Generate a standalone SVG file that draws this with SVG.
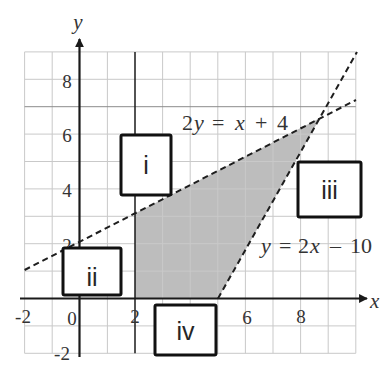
<svg xmlns="http://www.w3.org/2000/svg" width="382" height="365" viewBox="0 0 382 365">
<defs>
<style>
.grid line{stroke:#c9c9c9;stroke-width:1}
.axis{stroke:#1a1a1a;stroke-width:2.2;fill:none}
.dash{stroke:#1e1e1e;stroke-width:2;stroke-dasharray:6 4;fill:none}
.num{font-family:"Liberation Serif","Times New Roman",serif;font-size:19px;fill:#333;text-anchor:middle}
.eq{font-family:"Liberation Serif","Times New Roman",serif;font-size:22px;fill:#333}
.it{font-style:italic}
.box{fill:#fff;stroke:#111;stroke-width:3}
.lbl{font-family:"Liberation Sans",Arial,sans-serif;font-size:25px;fill:#262626;text-anchor:middle}
</style>
<marker id="arr" viewBox="0 0 10 10" refX="9" refY="5" markerWidth="4" markerHeight="4" orient="auto" markerUnits="strokeWidth">
<path d="M0,0 L10,5 L0,10 z" fill="#1a1a1a"/>
</marker>
</defs>
<rect width="382" height="365" fill="#fff"/>
<polygon id="region" points="135,298.5 135,213.4 320,118 218,298.5" fill="#000" fill-opacity="0.26"/>
<g class="grid">
<line x1="24.6" y1="51.9" x2="24.6" y2="353.3"/>
<line x1="52.2" y1="51.9" x2="52.2" y2="353.3"/>
<line x1="107.4" y1="51.9" x2="107.4" y2="353.3"/>
<line x1="162.6" y1="51.9" x2="162.6" y2="353.3"/>
<line x1="190.2" y1="51.9" x2="190.2" y2="353.3"/>
<line x1="217.8" y1="51.9" x2="217.8" y2="353.3"/>
<line x1="245.4" y1="51.9" x2="245.4" y2="353.3"/>
<line x1="273" y1="51.9" x2="273" y2="353.3"/>
<line x1="300.6" y1="51.9" x2="300.6" y2="353.3"/>
<line x1="328.2" y1="51.9" x2="328.2" y2="353.3"/>
<line x1="355.8" y1="51.9" x2="355.8" y2="353.3"/>
<line x1="24.6" y1="51.9" x2="355.8" y2="51.9"/>
<line x1="24.6" y1="79.3" x2="355.8" y2="79.3"/>
<line x1="24.6" y1="134.1" x2="355.8" y2="134.1"/>
<line x1="24.6" y1="161.5" x2="355.8" y2="161.5"/>
<line x1="24.6" y1="188.9" x2="355.8" y2="188.9"/>
<line x1="24.6" y1="216.3" x2="355.8" y2="216.3"/>
<line x1="24.6" y1="243.7" x2="355.8" y2="243.7"/>
<line x1="24.6" y1="271.1" x2="355.8" y2="271.1"/>
<line x1="24.6" y1="325.9" x2="355.8" y2="325.9"/>
<line x1="24.6" y1="353.3" x2="355.8" y2="353.3"/>
<line x1="24.6" y1="106.7" x2="355.8" y2="106.7" style="stroke:#8c8c8c"/>
</g>
<g id="axes">
<line x1="135" y1="51.9" x2="135" y2="353.3" stroke="#1a1a1a" stroke-width="1.5"/>
<line class="axis" x1="79.5" y1="357" x2="79.5" y2="39" marker-end="url(#arr)"/>
<line class="axis" x1="20" y1="298.5" x2="367" y2="298.5" marker-end="url(#arr)"/>
<text x="78" y="29" class="eq it" text-anchor="middle" style="font-size:21px">y</text>
<text x="370" y="308" class="eq it" style="font-size:21px">x</text>
</g>
<g id="ticks">
<text class="num" x="67" y="88">8</text>
<text class="num" x="67" y="142">6</text>
<text class="num" x="67" y="197">4</text>
<text class="num" x="67" y="252">2</text>
<text class="num" x="23" y="323">-2</text>
<text class="num" x="72" y="325">0</text>
<text class="num" x="135" y="323">2</text>
<text class="num" x="247" y="324">6</text>
<text class="num" x="301" y="323">8</text>
<text class="num" x="62" y="360">-2</text>
</g>
<g id="connectors">
<line class="dash" x1="24.6" y1="270" x2="356" y2="100"/>
<line class="dash" x1="218" y1="298.5" x2="357" y2="52"/>
</g>
<g id="equations">
<text class="eq" y="130"><tspan x="182">2</tspan><tspan x="194" class="it">y</tspan><tspan x="212">=</tspan><tspan x="235" class="it">x</tspan><tspan x="255">+</tspan><tspan x="277">4</tspan></text>
<text class="eq" y="253"><tspan x="261" class="it">y</tspan><tspan x="279">=</tspan><tspan x="298">2</tspan><tspan x="310" class="it">x</tspan><tspan x="330">–</tspan><tspan x="350">10</tspan></text>
</g>
<g id="node-i">
<rect class="box" x="121" y="135" width="50" height="60" rx="1.5"/>
<text class="lbl" x="146" y="174">i</text>
</g>
<g id="node-ii">
<rect class="box" x="63" y="248" width="58" height="47" rx="1.5"/>
<text class="lbl" x="92" y="286">ii</text>
</g>
<g id="node-iii">
<rect class="box" x="298" y="162" width="63" height="55" rx="1.5"/>
<text class="lbl" x="329.5" y="199">iii</text>
</g>
<g id="node-iv">
<rect class="box" x="155" y="305" width="61" height="50" rx="1.5"/>
<text class="lbl" x="185.5" y="340">iv</text>
</g>
</svg>
